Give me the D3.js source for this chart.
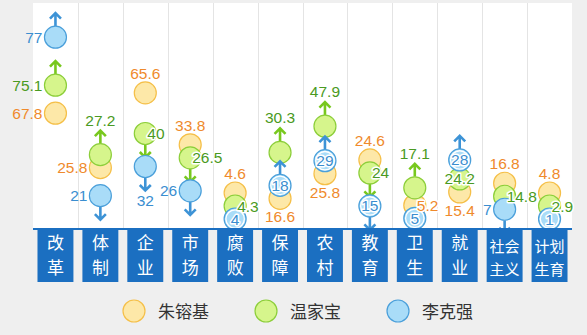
<!DOCTYPE html>
<html><head><meta charset="utf-8">
<script src="https://cdn.jsdelivr.net/npm/d3@7"></script>
<style>html,body{margin:0;padding:0;background:#efefef;}svg{display:block;}</style>
</head><body>
<script>
// ---- data ----
const categories = ["改革","体制","企业","市场","腐败","保障","农村","教育","卫生","就业","社会主义","计划生育"];
const seriesNames = ["朱镕基","温家宝","李克强"];
const zhuValues = [67.8,25.8,65.6,33.8,4.6,16.6,25.8,24.6,5.2,15.4,16.8,4.8];
const wenValues = [75.1,27.2,40,26.5,4.3,30.3,47.9,24,17.1,24.2,14.8,2.9];
const liValues  = [77,21,32,26,4,18,29,15,5,28,7,1];
// change arrows shown in the picture: 1 up, -1 down, 0 none
const zhuArrows = [0,0,0,0,0,0,0,0,0,0,0,0];
const wenArrows = [1,1,-1,-1,0,1,1,-1,1,0,0,0];
const liArrows  = [1,-1,-1,-1,0,1,1,-1,-1,1,-1,0];
// label side: l left, r right, t top, b bottom, c centre
const zhuLabelSide = ["l","l","t","t","t","b","b","t","r","b","t","t"];
const wenLabelSide = ["l","t","r","r","r","t","t","r","t","c","r","r"];
const liLabelSide  = ["l","l","b","l","c","c","c","c","c","c","l","c"];

// ---- style ----
const W = 587, H = 335;
const plot = {left:33, right:572, top:3, bottom:229};
const R = 11;
const styles = [
  {fill:"#fde8a8", stroke:"#f5bf48", text:"#ef8a2c", arrow:"#f0a030"},
  {fill:"#d6f58c", stroke:"#8cce3a", text:"#4a9a22", arrow:"#78c81e"},
  {fill:"#a9dcf8", stroke:"#4a9fda", text:"#3a8ed0", arrow:"#3d93d6"}
];
const boxBlue = "#1b6fc1";

const series = [
  {name:seriesNames[0], values:zhuValues, arrows:zhuArrows, sides:zhuLabelSide},
  {name:seriesNames[1], values:wenValues, arrows:wenArrows, sides:wenLabelSide},
  {name:seriesNames[2], values:liValues,  arrows:liArrows,  sides:liLabelSide}
];

const x = d3.scaleBand().domain(categories).range([plot.left, plot.right]);
const y = d3.scaleLinear().domain([0, 50, 80]).range([222, 122, 66]);

const svg = d3.select("body").append("svg").attr("width", W).attr("height", H);
svg.append("rect").attr("width", W).attr("height", H).attr("fill", "#efefef");
svg.append("rect").attr("x", plot.left).attr("y", plot.top)
  .attr("width", plot.right - plot.left).attr("height", plot.bottom - plot.top).attr("fill", "#fff");

svg.append("defs").append("clipPath").attr("id", "plotclip").append("rect")
  .attr("x", plot.left).attr("y", 0).attr("width", plot.right - plot.left).attr("height", plot.bottom);

// grid lines between columns
svg.append("g").selectAll("line").data(categories.slice(1)).join("line")
  .attr("x1", d => Math.round(x(d)) + 0.5).attr("x2", d => Math.round(x(d)) + 0.5)
  .attr("y1", plot.top).attr("y2", plot.bottom)
  .attr("stroke", "#e4e4e4").attr("stroke-width", 1);

// ---- build nodes and resolve vertical collisions in each column ----
const nodes = [];
categories.forEach((c, ci) => {
  const col = series.map((s, si) => ({
    cat: c, ci, si, v: s.values[ci], arrow: s.arrows[ci], side: s.sides[ci],
    cx: x(c) + x.bandwidth() / 2, ty: y(s.values[ci])
  }));
  col.forEach(n => n.cy = n.ty);
  const order = col.slice().sort((a, b) => a.ty - b.ty || b.v - a.v);
  const gap = (a, b) => {
    let g = 13;
    if ((a.side === "l" && b.side === "l") || (a.side === "r" && b.side === "r")) g = 28;
    if (a.side === "c" && b.side === "c") g = 19;
    if (a.arrow === -1) g += 20;
    if (b.arrow === 1) g += 20;
    return g;
  };
  for (let it = 0; it < 300; it++) {
    for (let k = 0; k < order.length - 1; k++) {
      const a = order[k], b = order[k + 1];
      const d = gap(a, b) - (b.cy - a.cy);
      if (d > 0) { a.cy -= d / 2; b.cy += d / 2; }
    }
    order.forEach(n => { n.cy = Math.max(24, Math.min(219, n.cy)); });
  }
  col.forEach(n => nodes.push(n));
});

// ---- marks ----
const marks = svg.append("g").attr("clip-path", "url(#plotclip)");
const AL = 13; // arrow length
const arrowPath = n => {
  const dir = n.arrow; // 1 up, -1 down
  const y0 = n.cy - dir * R, y1 = y0 - dir * AL;
  return `M${n.cx},${y0}V${y1}M${n.cx - 5.5},${y1 + dir * 5.5}L${n.cx},${y1}L${n.cx + 5.5},${y1 + dir * 5.5}`;
};
const ordered = nodes.slice().sort((a, b) => a.ci - b.ci || a.si - b.si);
ordered.forEach(n => {
  const st = styles[n.si];
  if (n.arrow !== 0) {
    marks.append("path").attr("d", arrowPath(n)).attr("fill", "none")
      .attr("stroke", st.arrow).attr("stroke-width", 2.6);
  }
  marks.append("circle").attr("cx", n.cx).attr("cy", n.cy).attr("r", R)
    .attr("fill", st.fill).attr("stroke", st.stroke).attr("stroke-width", 1.2);
  if (n.si === 2 && n.side === "c") {
    marks.append("circle").attr("cx", n.cx).attr("cy", n.cy).attr("r", R - 1.8)
      .attr("fill", "none").attr("stroke", "#fff").attr("stroke-width", 1.3);
  }
});

// ---- value labels ----
const fmt = v => String(v);
const labels = svg.append("g").attr("font-family", "'Liberation Sans', Arial, sans-serif")
  .attr("font-size", 15.5);
nodes.forEach(n => {
  const st = styles[n.si];
  let tx = n.cx, ty = n.cy + 5.5, anchor = "middle", halo = false;
  if (n.side === "l") { tx = n.cx - R - 2; anchor = "end"; }
  else if (n.side === "r") { tx = n.cx + 2; anchor = "start"; halo = true; }
  else if (n.side === "c") { halo = true; }
  else if (n.side === "t") { ty = (n.arrow === 1 ? n.cy - R - AL - 5 : n.cy - R - 3); }
  else if (n.side === "b") { ty = (n.arrow === -1 ? n.cy + R + AL + 15 : n.cy + R + 13); }
  const t = labels.append("text").attr("x", tx).attr("y", ty).attr("text-anchor", anchor)
    .attr("fill", st.text).text(fmt(n.v));
  if (halo) t.attr("stroke", "#fff").attr("stroke-width", 3).attr("stroke-linejoin", "round")
    .attr("paint-order", "stroke");
});

// ---- category boxes ----
svg.append("rect").attr("x", plot.left).attr("y", plot.bottom - 1)
  .attr("width", plot.right - plot.left).attr("height", 2).attr("fill", boxBlue);
const boxW = x.bandwidth() * 0.8;
const boxes = svg.append("g");
categories.forEach(c => {
  const cx = x(c) + x.bandwidth() / 2;
  boxes.append("rect").attr("x", cx - boxW / 2).attr("y", plot.bottom + 1)
    .attr("width", boxW).attr("height", 52).attr("fill", boxBlue);
  const lines = c.length > 2 ? [c.slice(0, 2), c.slice(2)] : [c[0], c[1]];
  const fs = c.length > 2 ? 15 : 17;
  const ys = c.length > 2 ? [251.5, 274.5] : [248.5, 273.5];
  lines.forEach((ln, k) => {
    boxes.append("text").attr("x", cx).attr("y", ys[k]).attr("text-anchor", "middle")
      .attr("font-family", "'Noto Sans CJK SC', sans-serif").attr("font-size", fs)
      .attr("fill", "#fff").text(ln);
  });
});

// ---- legend ----
const lx = d3.scalePoint().domain(seriesNames).range([134, 398]);
const legend = svg.append("g");
seriesNames.forEach((nm, i) => {
  legend.append("circle").attr("cx", lx(nm)).attr("cy", 311).attr("r", R)
    .attr("fill", styles[i].fill).attr("stroke", styles[i].stroke).attr("stroke-width", 1.2);
  legend.append("text").attr("x", lx(nm) + 24).attr("y", 317.5)
    .attr("font-family", "'Noto Sans CJK SC', sans-serif").attr("font-size", 17)
    .attr("fill", "#333").text(nm);
});
</script>
</body></html>
